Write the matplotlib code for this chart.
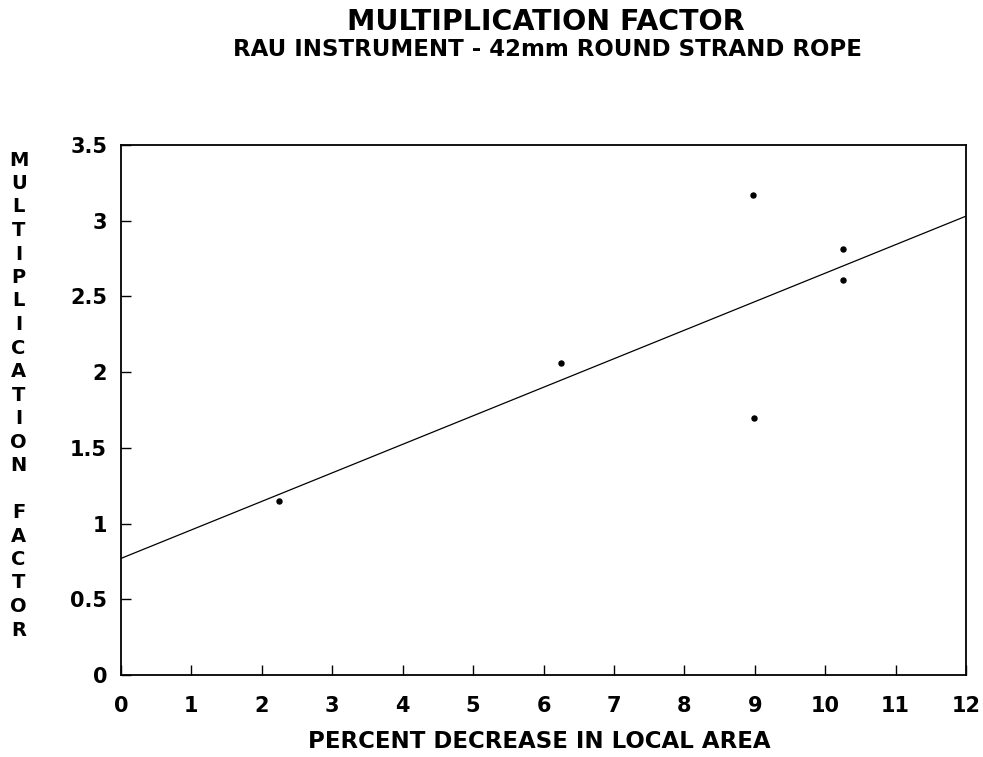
import matplotlib.pyplot as plt

# data
pct_decrease = [2.25, 6.25, 8.98, 8.99, 10.25, 10.25]
mult_factor = [1.15, 2.06, 3.17, 1.70, 2.81, 2.61]

# fitted line (end points)
fit_x = [0, 12]
fit_y = [0.77, 3.03]

x_ticks = list(range(0, 13))
y_ticks = [0, 0.5, 1, 1.5, 2, 2.5, 3, 3.5]
y_labels = ["0", "0.5", "1", "1.5", "2", "2.5", "3", "3.5"]

plt.rcParams['font.family'] = ['DejaVu Sans']
plt.rcParams['font.weight'] = 'bold'

fig = plt.figure(figsize=(9.83, 7.57), dpi=100)
ax = fig.add_axes([0.1231, 0.1083, 0.8596, 0.7002])

ax.plot(fit_x, fit_y, color='black', linewidth=0.9)
ax.plot(pct_decrease, mult_factor, 'o', color='black', markersize=3.6)

ax.set_xlim(0, 12)
ax.set_ylim(0, 3.5)
ax.set_xticks(x_ticks)
ax.set_yticks(y_ticks)
ax.set_yticklabels(y_labels)
ax.tick_params(direction='in', length=7, width=1, labelsize=15)
ax.tick_params(axis='x', pad=15)
ax.tick_params(axis='y', pad=10)
for lab in ax.get_xticklabels() + ax.get_yticklabels():
    lab.set_fontweight('bold')
for sp in ax.spines.values():
    sp.set_linewidth(1.3)

# titles
fig.text(0.555, 1 - 22 / 757, "MULTIPLICATION FACTOR", ha='center', va='center',
         fontsize=20.5, fontweight='bold')
fig.text(0.557, 1 - 50 / 757, "RAU INSTRUMENT - 42mm ROUND STRAND ROPE", ha='center',
         va='center', fontsize=16.5, fontweight='bold')

# x label
fig.text(0.549, 1 - 742 / 757, "PERCENT DECREASE IN LOCAL AREA", ha='center',
         va='center', fontsize=16.5, fontweight='bold')

# stacked y label
ylab = "MULTIPLICATION FACTOR"
y0 = 1 - 160 / 757
step = 23.5 / 757
for i, ch in enumerate(ylab):
    if ch != " ":
        fig.text(0.019, y0 - i * step, ch, ha='center', va='center',
                 fontsize=14, fontweight='bold')

fig.savefig("out.png", dpi=100)
